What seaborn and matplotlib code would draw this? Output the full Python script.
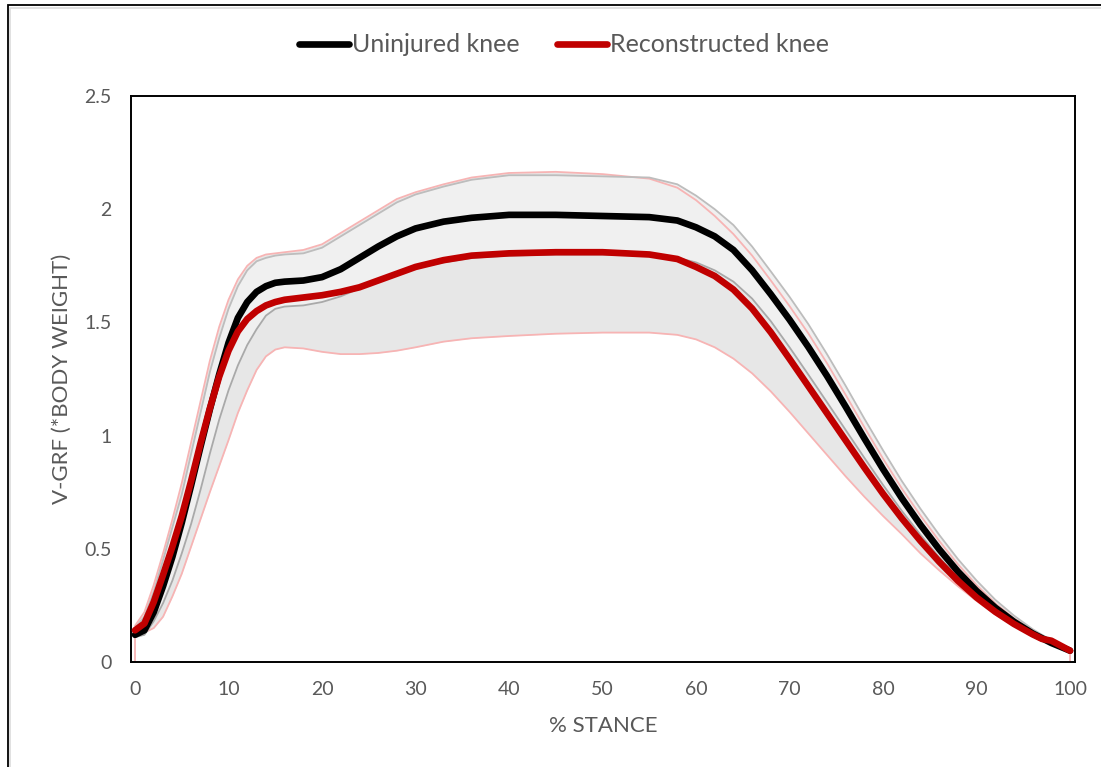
import matplotlib
matplotlib.use("Agg")
import matplotlib.pyplot as plt
from matplotlib.patches import Rectangle
import pandas as pd
import seaborn as sns

# % of stance phase
x_pct = [0, 1, 2, 3, 4, 5, 6, 7, 8, 9, 10, 11, 12, 13, 14, 15, 16,
         18, 20, 22, 24, 26, 28, 30, 33, 36, 40, 45, 50, 55, 58,
         60, 62, 64, 66, 68, 70, 72, 74, 76, 78, 80, 82, 84, 86, 88, 90, 92, 94, 96,
         97, 98, 99, 100]

# vertical ground reaction force, multiples of body weight
uninjured_mean = [0.12, 0.14, 0.22, 0.335, 0.465, 0.615, 0.78, 0.95, 1.115, 1.27, 1.41, 1.52, 1.59, 1.635, 1.66, 1.675, 1.68,
                  1.685, 1.70, 1.735, 1.785, 1.835, 1.88, 1.915,
                  1.945, 1.962, 1.975, 1.975, 1.97, 1.965, 1.95,
                  1.92, 1.88, 1.82, 1.73, 1.624, 1.512, 1.392, 1.264, 1.128, 0.988, 0.852, 0.724, 0.606, 0.498, 0.40,
                  0.314, 0.24, 0.178, 0.126,
                  0.105, 0.084, 0.067, 0.05]
uninjured_upper = [0.15, 0.20, 0.31, 0.45, 0.595, 0.74, 0.92, 1.10, 1.28, 1.43, 1.56, 1.66, 1.73, 1.77, 1.785, 1.795, 1.80,
                   1.805, 1.83, 1.88, 1.93, 1.98, 2.03, 2.065,
                   2.10, 2.13, 2.15, 2.15, 2.145, 2.14, 2.11,
                   2.06, 2.00, 1.93, 1.835, 1.725, 1.613, 1.493, 1.36, 1.22, 1.075, 0.935, 0.80, 0.677, 0.562, 0.455,
                   0.36, 0.275, 0.205, 0.145,
                   0.12, 0.097, 0.073, 0.05]
uninjured_lower = [0.11, 0.12, 0.18, 0.26, 0.36, 0.48, 0.61, 0.76, 0.92, 1.07, 1.20, 1.31, 1.40, 1.47, 1.53, 1.56, 1.57,
                   1.575, 1.59, 1.615, 1.65, 1.685, 1.715, 1.74,
                   1.765, 1.785, 1.795, 1.80, 1.80, 1.795, 1.785,
                   1.765, 1.73, 1.68, 1.605, 1.505, 1.39, 1.27, 1.148, 1.025, 0.902, 0.782, 0.668, 0.562, 0.463, 0.373,
                   0.293, 0.225, 0.17, 0.125,
                   0.107, 0.09, 0.07, 0.05]

reconstructed_mean = [0.14, 0.17, 0.265, 0.385, 0.51, 0.645, 0.80, 0.965, 1.12, 1.26, 1.375, 1.46, 1.515, 1.55, 1.575, 1.59, 1.60,
                      1.61, 1.62, 1.635, 1.655, 1.685, 1.715, 1.745,
                      1.775, 1.795, 1.805, 1.81, 1.81, 1.80, 1.78,
                      1.745, 1.705, 1.645, 1.561, 1.456, 1.339, 1.219, 1.099, 0.979, 0.859, 0.743, 0.635, 0.535, 0.443, 0.359,
                      0.285, 0.222, 0.168, 0.122,
                      0.102, 0.094, 0.072, 0.05]
reconstructed_upper = [0.16, 0.22, 0.34, 0.48, 0.63, 0.79, 0.97, 1.15, 1.33, 1.48, 1.60, 1.69, 1.75, 1.785, 1.80, 1.805, 1.81,
                       1.82, 1.845, 1.895, 1.945, 1.995, 2.045, 2.075,
                       2.11, 2.14, 2.16, 2.165, 2.155, 2.135, 2.095,
                       2.04, 1.97, 1.89, 1.795, 1.685, 1.572, 1.452, 1.32, 1.18, 1.037, 0.898, 0.767, 0.647, 0.535, 0.432,
                       0.34, 0.26, 0.193, 0.137,
                       0.115, 0.093, 0.072, 0.05]
reconstructed_lower = [0.12, 0.13, 0.15, 0.20, 0.29, 0.39, 0.51, 0.63, 0.75, 0.865, 0.98, 1.10, 1.20, 1.29, 1.35, 1.38, 1.39,
                       1.385, 1.37, 1.36, 1.36, 1.365, 1.375, 1.39,
                       1.415, 1.43, 1.44, 1.45, 1.455, 1.455, 1.445,
                       1.425, 1.39, 1.34, 1.275, 1.195, 1.105, 1.01, 0.915, 0.82, 0.73, 0.645, 0.565, 0.48, 0.405, 0.335,
                       0.27, 0.21, 0.16, 0.115,
                       0.098, 0.085, 0.068, 0.05]
# the reconstructed lower edge closes to zero at both ends of stance
reconstructed_lower_ends = (0.0, 0.0)

group_names = ["Uninjured knee", "Reconstructed knee"]
y_ticks = [0, 0.5, 1, 1.5, 2, 2.5]
y_tick_labels = ["0", "0.5", "1", "1.5", "2", "2.5"]
x_ticks = list(range(0, 101, 10))

sns.set_theme(style="white")
plt.rcParams["font.family"] = ["Lato", "DejaVu Sans"]

TEXT = "#595959"
MEAN_COLORS = {"Uninjured knee": "#000000", "Reconstructed knee": "#C00000"}

fig = plt.figure(figsize=(11.01, 7.67), dpi=100)
ax = fig.add_axes([131 / 1101, 105 / 767, 944 / 1101, 566 / 767])

# shaded ±SD bands
ax.fill_between(x_pct, reconstructed_lower, reconstructed_upper, color="#e7e7e7", lw=0, zorder=1)
ax.fill_between(x_pct, uninjured_lower, uninjured_upper, color="#f0f0f0", lw=0, zorder=1.1)

# band edge lines
edges = pd.concat([
    pd.DataFrame({"x": x_pct, "y": uninjured_upper, "edge": "u_up"}),
    pd.DataFrame({"x": x_pct, "y": uninjured_lower, "edge": "u_lo"}),
    pd.DataFrame({"x": x_pct, "y": reconstructed_upper, "edge": "r_up"}),
    pd.DataFrame({"x": [x_pct[0]] + x_pct + [x_pct[-1]],
                  "y": [reconstructed_lower_ends[0]] + reconstructed_lower + [reconstructed_lower_ends[1]],
                  "edge": "r_lo"}),
], ignore_index=True)
sns.lineplot(data=edges, x="x", y="y", hue="edge",
             palette={"u_up": "#bdbdbd", "u_lo": "#a9a9a9", "r_up": "#f7b4b4", "r_lo": "#f7b4b4"},
             hue_order=["r_up", "r_lo", "u_up", "u_lo"],
             estimator=None, sort=False, legend=False, linewidth=1.3, ax=ax, zorder=2)

# group mean curves
means = pd.concat([
    pd.DataFrame({"x": x_pct, "y": uninjured_mean, "group": group_names[0]}),
    pd.DataFrame({"x": x_pct, "y": reconstructed_mean, "group": group_names[1]}),
], ignore_index=True)
sns.lineplot(data=means, x="x", y="y", hue="group", hue_order=group_names,
             palette=MEAN_COLORS, estimator=None, sort=False, linewidth=4.8,
             solid_capstyle="round", solid_joinstyle="round", ax=ax, zorder=3)

ax.set_xlim(-0.43, 100.53)
ax.set_ylim(0, 2.5)
ax.set_xticks(x_ticks)
ax.set_xticklabels([str(t) for t in x_ticks])
ax.set_yticks(y_ticks)
ax.set_yticklabels(y_tick_labels)
ax.tick_params(axis="both", length=0, pad=14, labelsize=14, labelcolor=TEXT)
for side in ["left", "right", "top", "bottom"]:
    ax.spines[side].set_visible(True)
    ax.spines[side].set_color("#000000")
    ax.spines[side].set_linewidth(1.4)
ax.grid(False)

ax.set_xlabel("% STANCE", fontsize=16, color=TEXT)
ax.xaxis.label.set_va("center")
ax.xaxis.set_label_coords(0.5, (41 - 105) / 566)
ax.set_ylabel("V-GRF (*BODY WEIGHT)", fontsize=16, color=TEXT)
ax.yaxis.label.set_va("center")
ax.yaxis.set_label_coords((62 - 131) / 944, 0.5)

sns.move_legend(ax, "center", bbox_to_anchor=(564 / 1101, 1 - 45 / 767),
                bbox_transform=fig.transFigure, ncol=2, frameon=False, title=None,
                fontsize=18, handlelength=2.0, handletextpad=0.12, columnspacing=1.5,
                labelcolor=TEXT)
for h in ax.get_legend().get_lines():
    h.set_linewidth(4.8)
    h.set_solid_capstyle("round")

# outer chart frame
fig.patches.append(Rectangle((7.5 / 1101, -0.05), 1.2, 1.05 - 5.5 / 767,
                             transform=fig.transFigure, fill=False, ec="#000000", lw=1.3))
fig.patches.append(Rectangle((10 / 1101, -0.05), 1.2, 1.05 - 8 / 767,
                             transform=fig.transFigure, fill=False, ec="#dcdcdc", lw=1.2))

fig.savefig("out.png", dpi=100)
